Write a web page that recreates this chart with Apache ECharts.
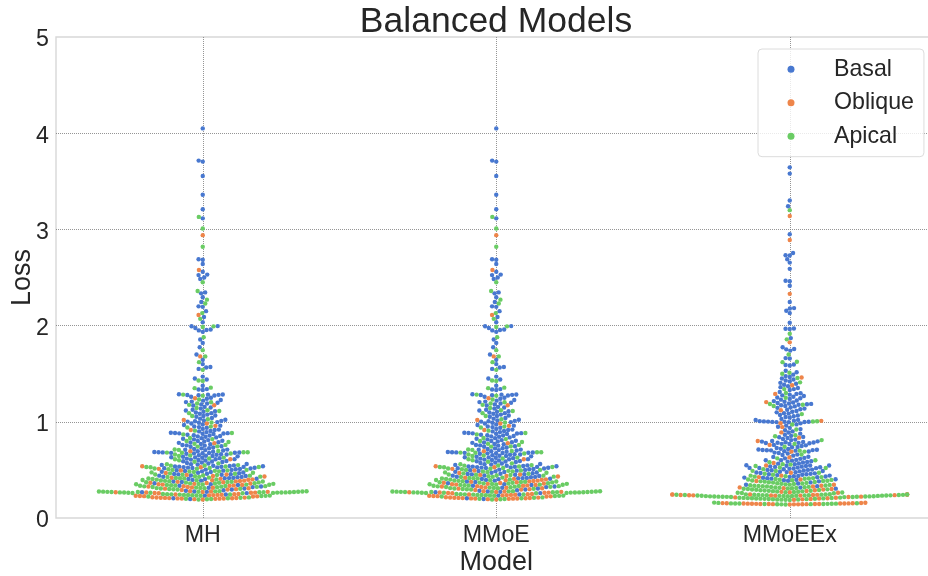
<!DOCTYPE html>
<html><head><meta charset="utf-8">
<style>html,body{margin:0;padding:0;background:#fff}#c{width:928px;height:576px}</style>
<script src="https://cdn.jsdelivr.net/npm/echarts@6/dist/echarts.min.js"></script>
</head><body><div id="c"></div>
<script>
const models = ['MH', 'MMoE', 'MMoEEx'];
const cellTypes = ['Basal', 'Oblique', 'Apical'];
const yTicks = [0, 1, 2, 3, 4, 5];

const mhBasal = [4.05,3.715,3.705,3.555,3.36,3.21,3.115,2.69,2.685,2.64,2.56,2.53,2.525,2.5,2.485,2.345,2.335,2.295,2.245,2.2,2.195,2.15,2.09,2.035,1.995,1.994,1.975,1.96,1.955,1.95,1.935,1.855,1.82,1.775,1.7,1.645,1.6,1.57,1.565,1.55,1.47,1.45,1.44,1.375,1.34,1.335,1.33,
1.286,1.284,1.282,1.28,1.278,1.276,1.274,1.26,1.25,1.24,1.226,1.22,1.21,1.205,1.198,1.19,1.181,1.169,1.155,1.148,1.137,1.125,1.118,1.11,1.104,1.097,1.09,1.083,1.075,1.066,1.06,1.052,1.04,1.033,1.021,1.014,1.01,1.006,1.002,
.997,.99,.983,.972,.966,.96,.951,.945,.938,.926,.919,.915,.904,.9,.893,.886,.884,.882,.88,.878,.876,.873,.866,.861,.857,.852,.848,.845,
.838,.83,.824,.817,.81,.803,.8,.796,.788,.785,.781,.77,.767,.759,.755,.752,.746,.74,.733,.725,.724,.717,.711,.71,.706,.701,
.694,.689,.686,.684,.682,.681,.679,.677,.676,.673,.672,.668,.663,.66,.657,.652,.647,.645,.641,.636,.631,.63,.626,.622,.617,.612,.61,.607,.603,.598,.593,.59,.587,.582,.577,.571,.566,.561,.56,.556,.552,
.547,.543,.541,.538,.536,.534,.533,.531,.529,.526,.524,.522,.519,.517,.514,.51,.507,.503,.5,.496,.492,.488,.485,.481,.478,.473,.47,.466,.46,.458,.455,.454,
.449,.442,.44,.437,.429,.427,.424,.417,.415,.413,.408,.405,.404,
.396,.389,.379,.374,.362,.352,.343,.336,.328,.321,.314,.306,.297,.288,.283,
.276,.272,.268,.259,.244,.233,.206,.198];

const mhOblique = [2.94,2.578,2.11,1.68,1.245,1.172,1.02,.982,.958,.915,.778,.694,.61,
.538,.527,.511,.494,.468,.452,.448,.436,.431,.419,.407,.402,
.397,.393,.388,.385,.381,.376,.371,.367,.364,.359,.355,.351,.347,.343,.339,.335,.331,.327,.323,.318,.314,.31,.305,.3,.296,.291,
.278,.275,.272,.27,.268,.265,.264,.262,.26,.258,
.249,.247,.244,.242,.24,.238,.235,.232,.229,.227,.225,.223,
.215,.213,.212,.211,.209,.208,.207,.206,.204,.203,.202,.201,.199,.196,.193];

const mhApical = [3.13,3.01,2.82,2.45,2.36,2.27,2.23,2.13,2.07,1.992,1.985,1.88,1.745,1.68,1.62,1.54,1.43,1.425,1.355,1.35,
1.283,1.272,1.232,1.204,1.19,1.176,1.143,1.12,1.112,1.09,1.061,1.027,
.993,.95,.94,.908,.884,.869,.831,.8,.771,.76,.742,.708,.712,.745,.79,.82,
.697,.684,.671,.66,.65,.645,.628,.619,.61,.6,.585,.568,.558,.683,.68,.678,
.55,.545,.535,.53,.53,.52,.515,.512,.5,.5,.49,.485,.483,.474,.47,.464,.452,.45,.447,.44,.434,.43,.426,.42,.416,.414,.41,.41,.405,.401,.544,.527,.508,.495,.478,.46,.443,.428,
.399,.395,.392,.39,.386,.383,.38,.377,.375,.372,.37,.368,.366,.362,.36,.358,.355,.353,.351,.349,.347,.345,.344,.34,.338,.335,.333,.331,.329,.326,.324,.322,.319,.316,.313,.311,.309,.307,.304,.301,.299,.296,
.279,.278,.277,.276,.275,.274,.273,.273,.272,.271,.27,.27,.269,.268,.267,.266,.266,.265,.265,.264,.263,.262,.261,.26,.257,
.25,.248,.246,.245,.243,.24,.239,.237,.234,.233,.231,.23,.228,.224,
.214,.21,.205,.2,.197,.195,.193];

const mmoeBasal = mhBasal;
const mmoeOblique = mhOblique;
const mmoeApical = mhApical;

const mmoeexBasal = [3.645,3.58,3.3,3.24,2.95,2.755,2.732,2.728,2.69,2.655,2.59,2.466,2.462,2.415,2.245,2.182,2.178,2.155,2.13,2.03,1.97,1.968,1.965,1.87,1.775,1.757,1.753,1.74,1.662,1.658,1.595,1.59,1.585,1.53,1.515,1.49,1.475,1.465,1.45,1.44,1.43,1.42,1.405,1.395,1.385,1.37,1.36,1.352,1.34,1.33,1.31,
1.296,1.29,1.282,1.275,1.268,1.26,1.252,1.245,1.238,1.23,1.222,1.215,1.208,1.2,1.196,1.19,1.186,1.182,1.178,1.172,1.165,1.16,1.15,1.145,
1.137,1.13,1.126,1.112,1.105,1.098,1.09,1.085,1.071,1.065,1.058,1.05,1.043,1.03,1.02,1.018,1.012,1.007,1.004,1.002,1.001,1,.999,.998,.997,.996,
.984,.973,.96,.948,.937,.924,.913,.9,.888,.877,.866,.854,
.843,.84,.832,.821,.815,.81,.8,.797,.794,.79,.787,.785,.783,.781,.779,.777,.771,.77,.76,.755,.749,.738,.735,.728,.72,.717,.712,.709,.707,.706,.704,.703,.7,
.695,.691,.68,.675,.67,.659,.655,.648,.637,.635,.625,.62,.615,.604,.6,.6,.596,.591,.586,.582,.577,.567,.565,.558,
.549,.546,.545,.543,.54,.537,.534,.531,.528,.524,.521,.52,.518,.514,.511,.507,.503,.5,.5,.496,.493,.489,.485,.481,.477,.475,.473,.468,.464,.459,.455,.455,
.45,.446,.441,.437,.435,.432,.428,.423,.42,.418,.414,.409,.403,.398,.392,.387,.381,.37,.358,.345,.331,.316,.305];

const mmoeexOblique = [3.14,2.89,2.33,1.826,1.46,1.38,1.29,1.205,1.12,1.01,.985,.945,.89,.835,.8,.76,.69,.63,.572,.545,.47,.44,.425,.4,.385,
.345,.335,.328,.318,.31,.302,.295,.288,.28,.272,.268,.262,
.2463,.2451,.2442,.2433,.2424,.2408,.2396,.2388,.2374,.2366,.2353,.2341,.2329,.2318,
.222,.218,.214,.21,.206,.202,.198,.194,.19,
.158,.156,.155,.154,.153,.152,.151,.15,.15,.149,.148,.147,.146,.146,.145,.145,.144,.144,.143,.142,.142,.14];

const mmoeexApical = [3.2,1.915,1.857,1.70,1.625,1.62,1.51,1.5,1.455,1.41,1.34,1.3,1.25,1.185,1.178,1.165,1.08,1.005,1.003,.972,.92,.86,.85,.81,.77,.74,.7,.69,.66,.62,.6,.58,.56,.555,.54,.525,.52,.508,.49,.488,.47,.46,.45,.435,.44,.43,.425,.415,
.41,.408,.405,.4,.398,.396,.393,.39,.387,.384,.381,.378,.375,.372,.368,.365,.362,.359,.356,.353,.35,.347,.344,.341,.338,.335,.332,.33,.327,.324,.322,.32,.317,.314,.312,.309,.307,.304,.301,.298,.296,.293,.291,.289,.286,.284,.282,.279,.277,.275,.273,.27,.268,.265,.263,.26,.258,
.2469,.2458,.2449,.2437,.2428,.2419,.2413,.2404,.24,.2392,.2385,.2378,.2369,.2361,.2357,.2348,.2337,.2333,.2325,.2314,.231,.2302,.2295,.2288,.2281,.2276,.2268,.2259,.2251,.2244,.2236,.2228,.2221,.2214,.2206,.2199,.219,.218,.2172,
.212,.211,.209,.208,.207,.205,.204,.203,.201,.2,.199,.197,.196,.195,.193,.192,.191,.189,.188,
.16,.157,.154,.152,.151,.15,.149,.148,.147,.146,.145,.144,.143,.142,.141];

const valuesByModel = [
  [mhBasal, mhOblique, mhApical],
  [mmoeBasal, mmoeOblique, mmoeApical],
  [mmoeexBasal, mmoeexOblique, mmoeexApical]
];

/* Beeswarm spreading, as a swarm plot does it: the offsets come from the values. */
const PX_PER_LOSS = 96.2, PX_PER_CATEGORY = 293.5, DIAMETER = 4.2, GUTTER = 117.4;
function swarm(groups, catIndex) {
  const pts = [];
  groups.forEach((vals, s) => vals.forEach(v => pts.push({ s, v, y: v * PX_PER_LOSS, x: 0 })));
  pts.sort((a, b) => a.v - b.v);
  const placed = [];
  pts.forEach(p => {
    const near = placed.filter(q => Math.abs(q.y - p.y) < DIAMETER);
    const cands = [0];
    near.forEach(q => {
      const dx = Math.sqrt(DIAMETER * DIAMETER - (q.y - p.y) * (q.y - p.y));
      cands.push(q.x - dx, q.x + dx);
    });
    cands.sort((a, b) => Math.abs(a) - Math.abs(b));
    for (const c of cands) {
      if (near.every(q => (q.x - c) * (q.x - c) + (q.y - p.y) * (q.y - p.y) >= DIAMETER * DIAMETER - 1e-6)) { p.x = c; break; }
    }
    placed.push(p);
  });
  const out = [[], [], []];
  placed.forEach(p => {
    const off = Math.max(-GUTTER, Math.min(GUTTER, p.x));
    out[p.s].push([catIndex + off / PX_PER_CATEGORY, p.v]);
  });
  return out;
}
const seriesData = [[], [], []];
valuesByModel.forEach((g, i) => swarm(g, i).forEach((arr, s) => seriesData[s].push(...arr)));

const colors = ['#4878d0', '#ee854a', '#6acc64'];
const font = '"Liberation Sans", Arial, sans-serif';
const ink = '#262626';
const dots = { color: '#7a7a7a', width: 0.8, type: [1, 1] };

const chart = echarts.init(document.getElementById('c'), null, { renderer: 'canvas' });
chart.setOption({
  animation: false,
  backgroundColor: '#fff',
  color: colors,
  textStyle: { fontFamily: font },
  title: {
    text: 'Balanced Models', left: 496, textAlign: 'center', top: 4, padding: 0,
    textStyle: { fontFamily: font, fontSize: 35.5, fontWeight: 'normal', color: ink }
  },
  grid: { left: 56, top: 37, right: -8.5, bottom: 58, show: true, borderColor: '#d8d8d8', borderWidth: 1.4, outerBoundsMode: 'none', containLabel: false },
  legend: {
    orient: 'vertical', left: 758, top: 49, z: 20,
    data: cellTypes, icon: 'circle', itemWidth: 7, itemHeight: 7, itemGap: 7.5,
    padding: [7.3, 10, 7.4, 29.5],
    backgroundColor: 'rgba(255,255,255,0.8)', borderColor: '#dcdcdc', borderWidth: 1, borderRadius: 4,
    textStyle: { fontFamily: font, fontSize: 23.2, color: ink, lineHeight: 26, padding: [0, 0, 0, 34.5] }
  },
  xAxis: {
    type: 'value', min: -0.5, max: 2.5,
    name: 'Model', nameLocation: 'middle', nameGap: 31, nameMoveOverlap: false,
    nameTextStyle: { fontFamily: font, fontSize: 27, color: ink },
    axisLine: { show: false },
    axisTick: { show: false, customValues: [0, 1, 2] },
    axisLabel: { customValues: [0, 1, 2], margin: 6, fontFamily: font, fontSize: 23.2, color: ink, formatter: v => models[Math.round(v)] },
    splitLine: { show: true, lineStyle: dots }
  },
  yAxis: {
    type: 'value', min: 0, max: 5, interval: 1,
    name: 'Loss', nameLocation: 'middle', nameGap: 20, nameMoveOverlap: false,
    nameTextStyle: { fontFamily: font, fontSize: 27, color: ink },
    axisLine: { show: false }, axisTick: { show: false },
    axisLabel: {
      margin: 7, formatter: v => `{n|${v}}`,
      rich: { n: { padding: [6, 0, 0, 0], fontFamily: font, fontSize: 23.2, color: ink } }
    },
    splitLine: { show: true, showMinLine: false, showMaxLine: false, lineStyle: dots }
  },
  series: cellTypes.map((n, i) => ({
    name: n, type: 'scatter', data: seriesData[i], symbol: 'circle', symbolSize: 4.4,
    itemStyle: { color: colors[i], opacity: 1 }, silent: true, large: false, z: 3 + i
  }))
});
</script></body></html>
